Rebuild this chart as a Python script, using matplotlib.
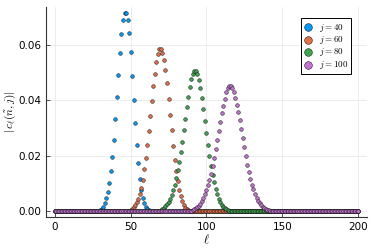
import numpy as np
from matplotlib import pyplot as plt

plt.rcParams["mathtext.fontset"] = "cm"

# ell values: every series is sampled on 0..200
ell = np.arange(0, 201)

# |c_ell|, only the non-zero window is listed
start_40 = 28
vals_40 = [0.0001, 0.0002, 0.0004, 0.0009, 0.0017, 0.0029, 0.0047, 0.0071, 0.0102,
           0.0144, 0.0197, 0.0259, 0.0333, 0.0411, 0.0493, 0.0571, 0.0639, 0.0690,
           0.0716, 0.0715, 0.0691, 0.0642, 0.0573, 0.0489, 0.0403, 0.0317, 0.0239,
           0.0173, 0.0118, 0.0076, 0.0047, 0.0029, 0.0017, 0.0009, 0.0005, 0.0002,
           0.0001]

start_60 = 48
vals_60 = [0.0001, 0.0003, 0.0005, 0.0009, 0.0015, 0.0023, 0.0033, 0.0046, 0.0063,
           0.0085, 0.0115, 0.0154, 0.0194, 0.0238, 0.0290, 0.0343, 0.0398, 0.0451,
           0.0497, 0.0538, 0.0567, 0.0585, 0.0585, 0.0572, 0.0547, 0.0508, 0.0462,
           0.0406, 0.0349, 0.0292, 0.0236, 0.0187, 0.0144, 0.0108, 0.0077, 0.0054,
           0.0036, 0.0024, 0.0014, 0.0008, 0.0004, 0.0002, 0.0001]

start_80 = 67
vals_80 = [0.0001, 0.0002, 0.0003, 0.0005, 0.0008, 0.0012, 0.0018, 0.0025, 0.0034,
           0.0045, 0.0059, 0.0076, 0.0096, 0.0120, 0.0148, 0.0179, 0.0214, 0.0252,
           0.0292, 0.0334, 0.0375, 0.0414, 0.0449, 0.0477, 0.0497, 0.0506, 0.0505,
           0.0495, 0.0474, 0.0445, 0.0409, 0.0368, 0.0325, 0.0282, 0.0240, 0.0201,
           0.0165, 0.0133, 0.0105, 0.0081, 0.0062, 0.0046, 0.0034, 0.0024, 0.0016,
           0.0011, 0.0007, 0.0004, 0.0003, 0.0002, 0.0001]

start_100 = 88
vals_100 = [0.0001, 0.0002, 0.0003, 0.0005, 0.0007, 0.0011, 0.0015, 0.0021, 0.0028,
            0.0037, 0.0048, 0.0061, 0.0076, 0.0094, 0.0113, 0.0136, 0.0163, 0.0193,
            0.0226, 0.0256, 0.0290, 0.0324, 0.0355, 0.0381, 0.0406, 0.0429, 0.0445,
            0.0453, 0.0452, 0.0446, 0.0431, 0.0410, 0.0385, 0.0358, 0.0328, 0.0296,
            0.0263, 0.0231, 0.0199, 0.0169, 0.0142, 0.0118, 0.0097, 0.0079, 0.0063,
            0.0049, 0.0038, 0.0029, 0.0022, 0.0016, 0.0012, 0.0008, 0.0006, 0.0004,
            0.0002, 0.0001]

j_values = [40, 60, 80, 100]
colors = ["#009AFA", "#E36F47", "#3EA44E", "#C371D2"]


def full_series(start, vals):
    c = np.zeros(len(ell))
    c[start:start + len(vals)] = vals
    return c


series = [
    full_series(start_40, vals_40),
    full_series(start_60, vals_60),
    full_series(start_80, vals_80),
    full_series(start_100, vals_100),
]

fig = plt.figure(figsize=(3.74, 2.49), dpi=100)
ax = fig.add_axes([0.122, 0.127, 0.86, 0.845])

for j, c, col in zip(j_values, series, colors):
    ax.scatter(ell, c, s=7, color=col, edgecolors="#111111", linewidths=0.35,
               label=f"$j = {j}$", zorder=3)

ax.set_xlim(-6, 206)
ax.set_ylim(-0.00215, 0.0737)
ax.set_xticks([0, 50, 100, 150, 200])
ax.set_yticks([0.0, 0.02, 0.04, 0.06])
ax.set_yticklabels(["0.00", "0.02", "0.04", "0.06"])

ax.grid(True, color="#e9e9e9", linewidth=0.6)
ax.set_axisbelow(True)
for side in ("top", "right"):
    ax.spines[side].set_visible(False)
for side in ("left", "bottom"):
    ax.spines[side].set_color("#333333")
    ax.spines[side].set_linewidth(0.8)
ax.tick_params(axis="both", direction="in", length=3, width=0.6, labelsize=7.5,
               colors="#333333", labelcolor="black", pad=3)

ax.set_xlabel(r"$\ell$", fontsize=9, labelpad=1)
ax.set_ylabel(r"$|\,c_\ell(\tilde{n}, j)|$", fontsize=8)
ax.yaxis.set_label_coords(-0.085, 0.5)

leg = ax.legend(loc="upper right", bbox_to_anchor=(0.965, 0.967), fontsize=6.5,
                markerscale=2.1, handletextpad=0.7, borderpad=0.35,
                labelspacing=0.05, fancybox=False, framealpha=1,
                handlelength=1.0)
leg.get_frame().set_edgecolor("black")
leg.get_frame().set_linewidth(0.7)

fig.savefig("out.png", dpi=100)
